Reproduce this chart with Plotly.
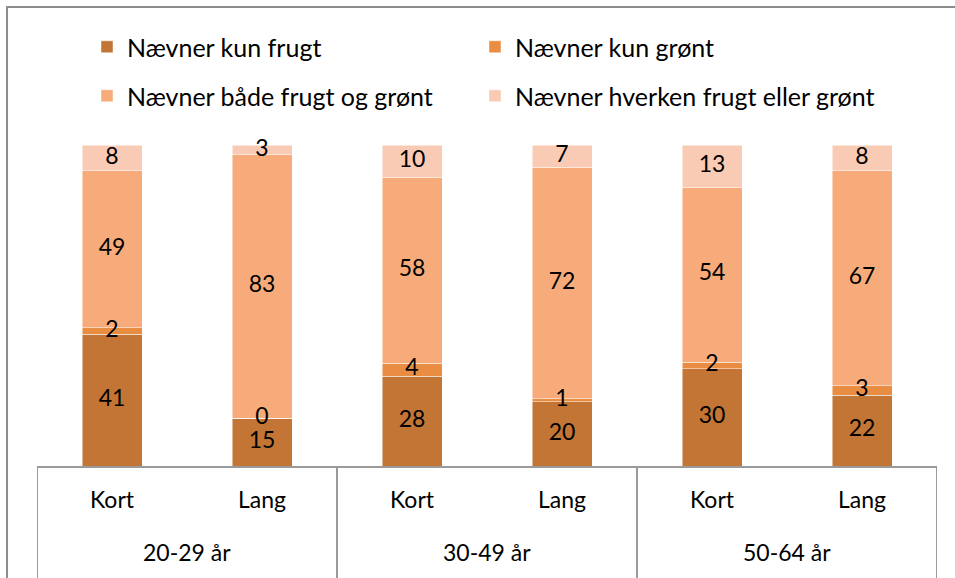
import numpy as np
import plotly.graph_objects as go

groups = ["20-29 år", "30-49 år", "50-64 år"]
subs = ["Kort", "Lang", "Kort", "Lang", "Kort", "Lang"]
series_names = ["Nævner kun frugt", "Nævner kun grønt",
                "Nævner både frugt og grønt", "Nævner hverken frugt eller grønt"]
kun_frugt = [41, 15, 28, 20, 30, 22]
kun_gront = [2, 0, 4, 1, 2, 3]
begge = [49, 83, 58, 72, 54, 67]
hverken = [8, 3, 10, 7, 13, 8]
colors = ["#C27535", "#E98D43", "#F7AB7A", "#F9CBB4"]

FONT = "Lato"
FS = 23
LFS = 25
series = [kun_frugt, kun_gront, begge, hverken]
x = list(range(len(subs)))
legend_ids = ["legend", "legend2", "legend3", "legend4"]

fig = go.Figure()
for i, (name, vals, col) in enumerate(zip(series_names, series, colors)):
    fig.add_trace(go.Bar(
        x=x, y=vals, name=name, width=0.4,
        marker=dict(color=col, line=dict(color="rgba(255,255,255,0.6)", width=0.8)),
        legend=legend_ids[i],
        hoverinfo="skip",
    ))

# data labels at segment midpoints (100% normalised stacks)
arr = np.array(series, dtype=float)
tot = arr.sum(axis=0)
norm = arr / tot * 100
cum = np.cumsum(norm, axis=0)
mid = cum - norm / 2
for i, vals in enumerate(series):
    fig.add_trace(go.Scatter(
        x=x, y=mid[i], mode="text", text=[str(v) for v in vals],
        textfont=dict(family=FONT, size=FS, color="#000000"),
        showlegend=False, cliponaxis=False, hoverinfo="skip",
    ))

shapes = []
# outer chart frame
shapes.append(dict(type="rect", xref="paper", yref="paper",
                   x0=-0.0333, x1=1.2, y0=-1.0, y1=1.43,
                   line=dict(color="#8C8C8C", width=2), fillcolor="rgba(0,0,0,0)"))
# group dividers
for b in [-0.5, 1.5, 3.5, 5.5]:
    shapes.append(dict(type="line", xref="x", yref="paper", x0=b, x1=b, y0=0, y1=-0.5,
                       line=dict(color="#9A9A9A", width=2)))

annotations = []
for gi, g in enumerate(groups):
    annotations.append(dict(x=gi * 2 + 0.5, y=-0.268, xref="x", yref="paper",
                            text=g, showarrow=False, yanchor="middle",
                            font=dict(family=FONT, size=FS, color="#000000")))


def leg(xp, yp):
    return dict(orientation="h", xref="container", yref="container",
                x=xp, y=yp, yanchor="middle", xanchor="left",
                font=dict(family=FONT, size=LFS, color="#000000"),
                bgcolor="rgba(0,0,0,0)")


col_x = [87 / 955, 475 / 955]
row_y = [1 - 47 / 578, 1 - 96 / 578]

fig.update_layout(
    width=955, height=578,
    margin=dict(l=37, r=18, t=145, b=112),
    barmode="stack", barnorm="percent",
    plot_bgcolor="white", paper_bgcolor="white",
    font=dict(family=FONT, size=FS, color="#000000"),
    shapes=shapes, annotations=annotations,
    legend=leg(col_x[0], row_y[0]),
    legend2=leg(col_x[1], row_y[0]),
    legend3=leg(col_x[0], row_y[1]),
    legend4=leg(col_x[1], row_y[1]),
    xaxis=dict(range=[-0.5, 5.5], tickmode="array", tickvals=x, ticktext=subs,
               showline=True, linecolor="#9A9A9A", linewidth=2, showgrid=False,
               zeroline=False, ticks="", ticklabelstandoff=12,
               tickfont=dict(family=FONT, size=FS, color="#000000")),
    yaxis=dict(range=[0, 100], visible=False, showgrid=False, zeroline=False),
)

fig.write_html("out.html", config={"displayModeBar": False},
               post_script="document.body.style.margin='0';document.body.style.overflow='hidden';")
